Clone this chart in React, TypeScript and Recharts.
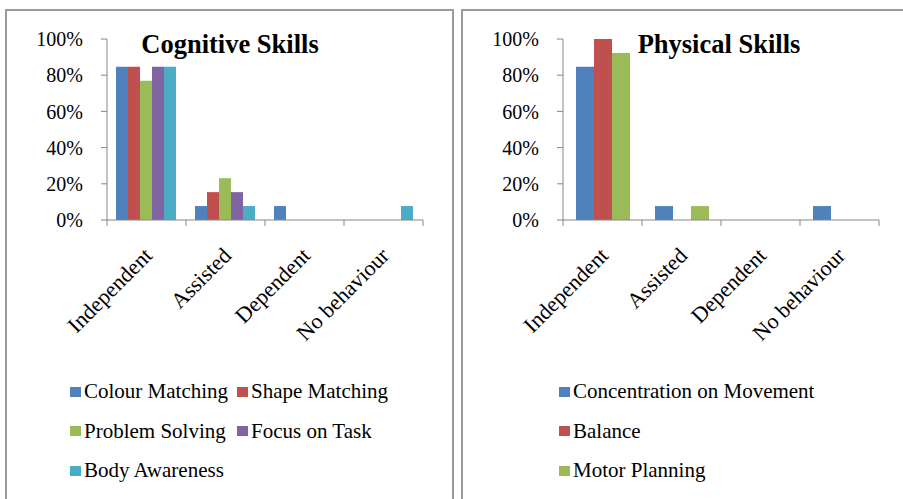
import React from 'react'
import { BarChart, Bar, XAxis, YAxis, Legend } from 'recharts'

const categories = ['Independent', 'Assisted', 'Dependent', 'No behaviour']
const yTicks = [0, 20, 40, 60, 80, 100]

// cognitive skills (% of children)
const colourMatching = [84.6, 7.7, 7.7, 0]
const shapeMatching = [84.6, 15.4, 0, 0]
const problemSolving = [76.9, 23.1, 0, 0]
const focusOnTask = [84.6, 15.4, 0, 0]
const bodyAwareness = [84.6, 7.7, 0, 7.7]

// physical skills (% of children)
const concentration = [84.6, 7.7, 0, 7.7]
const balance = [100, 0, 0, 0]
const motorPlanning = [92.3, 7.7, 0, 0]

const cognitiveSeries = ['Colour Matching', 'Shape Matching', 'Problem Solving', 'Focus on Task', 'Body Awareness']
const physicalSeries = ['Concentration on Movement', 'Balance', 'Motor Planning']

const cognitiveData = categories.map((c, i) => ({
  name: c,
  'Colour Matching': colourMatching[i],
  'Shape Matching': shapeMatching[i],
  'Problem Solving': problemSolving[i],
  'Focus on Task': focusOnTask[i],
  'Body Awareness': bodyAwareness[i],
}))

const physicalData = categories.map((c, i) => ({
  name: c,
  'Concentration on Movement': concentration[i],
  Balance: balance[i],
  'Motor Planning': motorPlanning[i],
}))

const FONT = '"Liberation Serif", "Times New Roman", serif'
const AXIS = '#868686'
const PLOT_W = 316
const BAND = PLOT_W / categories.length

const XTick = (props: any) => {
  const { x, y, payload, index } = props
  return (
    <g>
      <line x1={x - BAND / 2} y1={y} x2={x - BAND / 2} y2={y + 6} stroke={AXIS} />
      {index === categories.length - 1 && (
        <line x1={x + BAND / 2} y1={y} x2={x + BAND / 2} y2={y + 6} stroke={AXIS} />
      )}
      <text
        transform={`translate(${x + 7},${y + 37}) rotate(-45)`}
        textAnchor="end"
        fontFamily={FONT}
        fontSize={22}
        fill="#000"
      >
        {payload.value}
      </text>
    </g>
  )
}

const makeLegend = (order: string[], cols: string) => (props: any) => {
  const items = [...props.payload].sort((a: any, b: any) => order.indexOf(a.value) - order.indexOf(b.value))
  return (
    <div style={{ display: 'grid', gridTemplateColumns: cols, fontFamily: FONT, fontSize: 21 }}>
      {items.map((p: any) => (
        <div key={p.value} style={{ display: 'flex', alignItems: 'center', height: 39.5, whiteSpace: 'nowrap' }}>
          <span style={{ width: 11, height: 10, background: p.color, marginRight: 3, display: 'inline-block' }} />
          <span>{p.value}</span>
        </div>
      ))}
    </div>
  )
}

const titleStyle: React.CSSProperties = {
  position: 'absolute',
  top: 31,
  fontFamily: FONT,
  fontSize: 26.5,
  lineHeight: '26px',
  fontWeight: 'bold',
  transform: 'translateX(-50%)',
  whiteSpace: 'nowrap',
}

const axisProps = {
  stroke: AXIS,
  tick: { fill: '#000', fontFamily: FONT, fontSize: 20 },
}

export default function App() {
  return (
    <div style={{ position: 'absolute', left: 0, top: 0, width: 903, height: 499, overflow: 'hidden', background: '#fff', fontFamily: FONT }}>
      <div style={{ position: 'absolute', left: 5, top: 9, width: 445, height: 520, border: '2px solid #9a9a9a' }} />
      <div style={{ position: 'absolute', left: 461, top: 9, width: 460, height: 520, border: '2px solid #9a9a9a' }} />

      <div style={{ position: 'absolute', left: 0, top: 0 }}>
        <BarChart width={452} height={499} data={cognitiveData} margin={{ top: 39, right: 29, left: 0, bottom: 0 }} barCategoryGap={9} barGap={0}>
          <XAxis dataKey="name" height={279} interval={0} tickSize={0} tickMargin={0} stroke={AXIS} tick={<XTick />} />
          <YAxis width={107} domain={[0, 100]} ticks={yTicks} tickFormatter={(v) => `${v}%`} tickSize={6} tickMargin={18} {...axisProps} />
          <Legend verticalAlign="middle" align="center" content={makeLegend(cognitiveSeries, '167px auto')} wrapperStyle={{ left: 70, top: 372, width: 370 }} />
          <Bar dataKey="Colour Matching" fill="#4F81BD" isAnimationActive={false} />
          <Bar dataKey="Shape Matching" fill="#C0504D" isAnimationActive={false} />
          <Bar dataKey="Problem Solving" fill="#9BBB59" isAnimationActive={false} />
          <Bar dataKey="Focus on Task" fill="#8064A2" isAnimationActive={false} />
          <Bar dataKey="Body Awareness" fill="#4BACC6" isAnimationActive={false} />
        </BarChart>
        <div style={{ ...titleStyle, left: 230 }}>Cognitive Skills</div>
      </div>

      <div style={{ position: 'absolute', left: 455, top: 0 }}>
        <BarChart width={448} height={499} data={physicalData} margin={{ top: 39, right: 24, left: 0, bottom: 0 }} barCategoryGap={13} barGap={0}>
          <XAxis dataKey="name" height={279} interval={0} tickSize={0} tickMargin={0} stroke={AXIS} tick={<XTick />} />
          <YAxis width={108} domain={[0, 100]} ticks={yTicks} tickFormatter={(v) => `${v}%`} tickSize={6} tickMargin={18} {...axisProps} />
          <Legend verticalAlign="middle" align="center" content={makeLegend(physicalSeries, 'auto')} wrapperStyle={{ left: 104, top: 372, width: 330 }} />
          <Bar dataKey="Concentration on Movement" fill="#4F81BD" isAnimationActive={false} />
          <Bar dataKey="Balance" fill="#C0504D" isAnimationActive={false} />
          <Bar dataKey="Motor Planning" fill="#9BBB59" isAnimationActive={false} />
        </BarChart>
        <div style={{ ...titleStyle, left: 719 - 455 }}>Physical Skills</div>
      </div>
    </div>
  )
}
